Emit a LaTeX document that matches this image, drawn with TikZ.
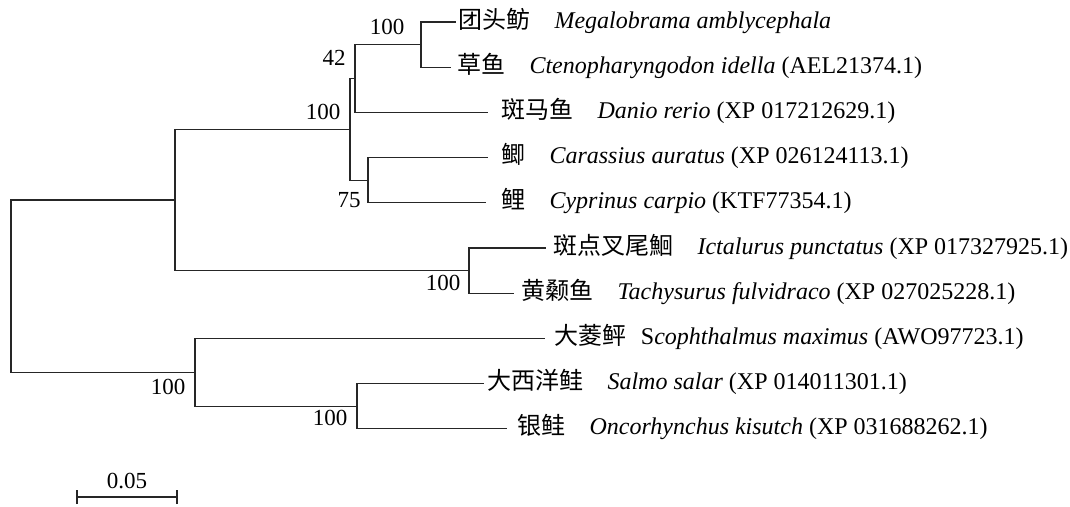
\documentclass[tikz,border=0pt]{standalone}
\usepackage{fontspec}
\setmainfont{Liberation Serif}
\newfontfamily\cjk{Noto Sans CJK SC}
\begin{document}
\begin{tikzpicture}[x=1pt,y=-1pt,line width=1.1pt,
  branch/.style={draw=black!85,line cap=rect},
  leaf/.style={anchor=west,inner sep=0pt,text height=17pt,text depth=5pt,font=\fontsize{24}{28}\selectfont},
  boot/.style={inner sep=0pt,font=\fontsize{23}{28}\selectfont}]
\useasboundingbox (0,0) rectangle (1070,506);
% leaf branch ends
\coordinate (t1) at (455,22);
\coordinate (t2) at (450,67.2);
\coordinate (t3) at (487,112.4);
\coordinate (t4) at (487,157.6);
\coordinate (t5) at (485,202.8);
\coordinate (t6) at (545,248);
\coordinate (t7) at (513,293.2);
\coordinate (t8) at (544,338.4);
\coordinate (t9) at (483,383.6);
\coordinate (t10) at (506,428.8);
% internal nodes
\coordinate (E) at (421,44.6);
\coordinate (C) at (355,78.5);
\coordinate (D) at (368,180.2);
\coordinate (B) at (350,129.35);
\coordinate (F) at (469,270.6);
\coordinate (A) at (175,200);
\coordinate (H) at (357,406.2);
\coordinate (G) at (195,372.3);
\coordinate (R) at (11,286.15);
% leaf labels
\node[leaf] (l1) at (458,22) {{\cjk 团头鲂}\quad\textit{Megalobrama amblycephala}};
\node[leaf] (l2) at (457,67.2) {{\cjk 草鱼}\quad\textit{Ctenopharyngodon idella} (AEL21374.1)};
\node[leaf] (l3) at (501,112.4) {{\cjk 斑马鱼}\quad\textit{Danio rerio} (XP 017212629.1)};
\node[leaf] (l4) at (501,157.6) {{\cjk 鲫}\quad\textit{Carassius auratus} (XP 026124113.1)};
\node[leaf] (l5) at (501,202.8) {{\cjk 鲤}\quad\textit{Cyprinus carpio} (KTF77354.1)};
\node[leaf] (l6) at (553,248) {{\cjk 斑点叉尾鮰}\quad\textit{Ictalurus punctatus} (XP 017327925.1)};
\node[leaf] (l7) at (521,293.2) {{\cjk 黄颡鱼}\quad\textit{Tachysurus fulvidraco} (XP 027025228.1)};
\node[leaf] (l8) at (554,338.4) {{\cjk 大菱鲆}\hspace{0.6em}S\textit{cophthalmus maximus} (AWO97723.1)};
\node[leaf] (l9) at (487,383.6) {{\cjk 大西洋鲑}\quad\textit{Salmo salar} (XP 014011301.1)};
\node[leaf] (l10) at (517,428.8) {{\cjk 银鲑}\quad\textit{Oncorhynchus kisutch} (XP 031688262.1)};
% branches
\draw[branch] (t1) -| (E) |- (t2);
\draw[branch] (E) -| (C) |- (t3);
\draw[branch] (t4) -| (D) |- (t5);
\draw[branch] (C) -| (B) |- (D);
\draw[branch] (t6) -| (F) |- (t7);
\draw[branch] (B) -| (A) |- (F);
\draw[branch] (t9) -| (H) |- (t10);
\draw[branch] (t8) -| (G) |- (H);
\draw[branch] (A) -| (R) |- (G);
% bootstrap values
\node[boot] (b1) at (387,27) {100};
\node[boot] (b2) at (334,58) {42};
\node[boot] (b3) at (323,112) {100};
\node[boot] (b4) at (349,200) {75};
\node[boot] (b5) at (443,283) {100};
\node[boot] (b6) at (168,387) {100};
\node[boot] (b7) at (330,418) {100};
% scale bar
\coordinate (s1) at (77,497);
\coordinate (s2) at (177,497);
\draw[branch,line cap=butt] (s1) -- (s2);
\draw[branch,line cap=butt] ([yshift=-7pt]s1) -- ([yshift=7pt]s1);
\draw[branch,line cap=butt] ([yshift=-7pt]s2) -- ([yshift=7pt]s2);
\node[boot] (sl) at (127,481) {0.05};
\end{tikzpicture}
\end{document}
